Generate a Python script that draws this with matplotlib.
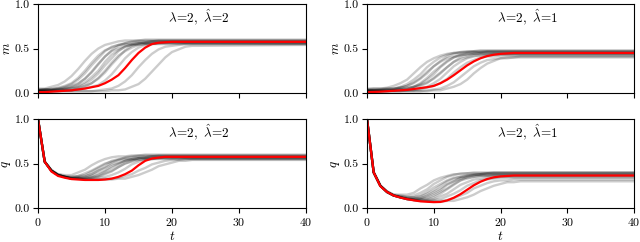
import matplotlib
matplotlib.use("Agg")
import matplotlib.pyplot as plt

plt.rcParams['font.family'] = 'serif'
plt.rcParams['font.serif'] = ['cmr10']
plt.rcParams['mathtext.fontset'] = 'cm'
plt.rcParams['axes.formatter.use_mathtext'] = True

t = list(range(0, 25)) + [40]

# panel (a): lambda=2, lambda_hat=2, overlap m
m_red_a = [.01, .01, .015, .02, .025, .03, .04, .05, .065, .08, .11, .15, .20, .28, .37, .45, .51, .55, .565, .57, .575, .575, .575, .575, .575, .575]
m_gray_a = [
    [.05, .05, .07, .09, .13, .19, .27, .36, .44, .50, .54, .56, .58, .59, .59, .59, .59, .59, .59, .59, .59, .59, .59, .59, .59, .59],
    [.03, .04, .04, .06, .08, .11, .17, .25, .34, .42, .48, .51, .54, .55, .55, .56, .56, .56, .56, .56, .56, .56, .56, .56, .56, .56],
    [.03, .04, .04, .05, .07, .10, .15, .22, .31, .39, .47, .52, .54, .56, .57, .58, .58, .58, .58, .58, .58, .58, .58, .58, .58, .58],
    [.02, .02, .03, .03, .05, .07, .10, .16, .24, .33, .41, .47, .50, .53, .54, .54, .55, .55, .55, .55, .55, .55, .55, .55, .55, .55],
    [.04, .04, .05, .05, .06, .08, .11, .16, .23, .32, .41, .48, .53, .56, .58, .59, .60, .60, .60, .60, .60, .60, .60, .60, .60, .60],
    [.03, .03, .03, .04, .04, .06, .08, .12, .18, .25, .35, .43, .48, .52, .55, .56, .56, .57, .57, .57, .57, .57, .57, .57, .57, .57],
    [.03, .03, .03, .04, .04, .05, .07, .10, .15, .22, .31, .39, .47, .52, .54, .56, .57, .58, .58, .58, .58, .58, .58, .58, .58, .58],
    [.02, .02, .02, .02, .03, .03, .05, .07, .11, .17, .25, .34, .42, .47, .51, .54, .55, .55, .56, .56, .56, .56, .56, .56, .56, .56],
    [.04, .04, .04, .04, .05, .05, .06, .08, .11, .16, .23, .32, .40, .48, .53, .55, .57, .58, .59, .59, .59, .59, .59, .59, .59, .59],
    [.03, .03, .03, .03, .03, .03, .04, .05, .07, .09, .14, .21, .30, .39, .46, .51, .54, .55, .56, .57, .57, .57, .57, .57, .57, .57],
    [.02, .02, .02, .02, .02, .02, .02, .02, .02, .03, .04, .05, .08, .13, .20, .29, .37, .44, .49, .52, .53, .54, .55, .55, .55, .55],
    [.02, .02, .02, .02, .02, .02, .02, .02, .02, .02, .02, .03, .03, .04, .07, .10, .16, .24, .32, .40, .46, .49, .52, .53, .53, .54],
]

# panel (b): lambda=2, lambda_hat=1, overlap m
m_red_b = [.01, .012, .015, .02, .025, .03, .035, .045, .055, .065, .08, .11, .15, .20, .255, .31, .355, .39, .415, .43, .44, .445, .45, .45, .45, .45]
m_gray_b = [
    [.04, .05, .05, .06, .08, .11, .15, .22, .29, .35, .39, .42, .44, .45, .45, .46, .46, .46, .46, .46, .46, .46, .46, .46, .46, .46],
    [.03, .03, .04, .04, .05, .07, .10, .15, .21, .29, .35, .40, .43, .45, .46, .46, .47, .47, .47, .47, .47, .47, .47, .47, .47, .47],
    [.03, .03, .03, .04, .04, .06, .08, .12, .17, .24, .30, .35, .39, .41, .43, .43, .44, .44, .44, .44, .44, .44, .44, .44, .44, .44],
    [.04, .04, .04, .05, .05, .06, .08, .11, .16, .22, .30, .36, .41, .44, .46, .47, .47, .48, .48, .48, .48, .48, .48, .48, .48, .48],
    [.02, .02, .02, .02, .03, .04, .05, .07, .11, .17, .24, .30, .36, .40, .42, .44, .44, .45, .45, .45, .45, .45, .45, .45, .45, .45],
    [.03, .03, .03, .03, .04, .04, .05, .07, .10, .15, .21, .29, .35, .40, .43, .45, .46, .46, .47, .47, .47, .47, .47, .47, .47, .47],
    [.03, .03, .03, .03, .03, .04, .04, .06, .08, .11, .17, .23, .29, .35, .38, .40, .42, .42, .43, .43, .43, .43, .43, .43, .43, .43],
    [.05, .05, .05, .05, .05, .06, .06, .07, .09, .12, .16, .22, .29, .35, .40, .42, .44, .45, .46, .46, .46, .46, .46, .46, .46, .46],
    [.02, .02, .02, .02, .02, .02, .03, .03, .05, .07, .11, .16, .23, .30, .35, .39, .41, .43, .43, .44, .44, .44, .44, .44, .44, .44],
    [.03, .03, .03, .03, .03, .03, .03, .04, .04, .06, .08, .11, .16, .23, .29, .34, .37, .40, .41, .41, .42, .42, .42, .42, .42, .42],
    [.02, .02, .02, .02, .02, .02, .02, .02, .02, .03, .04, .05, .08, .12, .18, .24, .30, .34, .37, .38, .39, .39, .40, .40, .40, .40],
    [.02, .02, .02, .02, .02, .02, .02, .02, .02, .02, .03, .03, .05, .07, .10, .15, .22, .28, .33, .36, .39, .40, .40, .41, .41, .41],
]

# panel (c): lambda=2, lambda_hat=2, self-overlap q
q_red_c = [1.0, .52, .41, .36, .34, .325, .32, .315, .315, .315, .32, .33, .35, .38, .42, .48, .53, .556, .567, .575, .575, .575, .575, .575, .575, .575]
q_gray_c = [
    [1.0, .52, .43, .38, .37, .37, .40, .43, .48, .52, .55, .57, .58, .58, .59, .59, .59, .59, .59, .59, .59, .59, .59, .59, .59, .59],
    [1.0, .52, .42, .38, .36, .35, .36, .39, .42, .46, .50, .52, .54, .55, .55, .56, .56, .56, .56, .56, .56, .56, .56, .56, .56, .56],
    [1.0, .52, .42, .37, .35, .35, .36, .37, .41, .45, .49, .53, .55, .56, .57, .58, .58, .58, .58, .58, .58, .58, .58, .58, .58, .58],
    [1.0, .52, .42, .37, .35, .34, .35, .36, .38, .42, .45, .49, .51, .53, .54, .54, .55, .55, .55, .55, .55, .55, .55, .55, .55, .55],
    [1.0, .52, .42, .37, .35, .34, .34, .35, .38, .42, .46, .51, .54, .57, .58, .59, .60, .60, .60, .60, .60, .60, .60, .60, .60, .60],
    [1.0, .52, .42, .37, .35, .34, .34, .34, .36, .39, .42, .47, .50, .53, .55, .56, .56, .57, .57, .57, .57, .57, .57, .57, .57, .57],
    [1.0, .52, .42, .37, .35, .33, .33, .34, .35, .37, .41, .45, .49, .53, .55, .56, .57, .58, .58, .58, .58, .58, .58, .58, .58, .58],
    [1.0, .52, .42, .37, .35, .33, .33, .33, .34, .36, .39, .42, .46, .50, .52, .54, .55, .55, .56, .56, .56, .56, .56, .56, .56, .56],
    [1.0, .52, .42, .37, .35, .33, .33, .33, .34, .35, .38, .41, .46, .50, .53, .56, .57, .58, .59, .59, .59, .59, .59, .59, .59, .59],
    [1.0, .52, .42, .37, .35, .33, .33, .32, .33, .34, .35, .37, .40, .44, .49, .52, .54, .55, .56, .57, .57, .57, .57, .57, .57, .57],
    [1.0, .52, .42, .37, .35, .33, .33, .32, .32, .32, .33, .33, .34, .36, .38, .42, .45, .49, .51, .53, .54, .54, .55, .55, .55, .55],
    [1.0, .52, .42, .37, .35, .33, .33, .32, .32, .32, .32, .32, .33, .33, .35, .37, .40, .43, .47, .49, .51, .53, .53, .54, .54, .54],
]

# panel (d): lambda=2, lambda_hat=1, self-overlap q
q_red_d = [1.0, .40, .245, .18, .14, .117, .10, .086, .075, .07, .066, .068, .085, .115, .155, .205, .255, .295, .325, .345, .355, .36, .365, .365, .365, .365]
q_gray_d = [
    [1.0, .40, .25, .19, .15, .15, .15, .17, .22, .26, .31, .34, .36, .38, .38, .39, .39, .39, .39, .39, .39, .39, .39, .39, .39, .39],
    [1.0, .40, .25, .18, .15, .14, .13, .14, .17, .21, .27, .31, .35, .37, .39, .39, .40, .40, .40, .40, .40, .40, .40, .40, .40, .40],
    [1.0, .40, .25, .18, .14, .13, .12, .12, .14, .18, .23, .27, .31, .34, .35, .36, .37, .37, .37, .37, .37, .37, .37, .37, .37, .37],
    [1.0, .40, .25, .18, .14, .13, .12, .12, .13, .16, .20, .25, .30, .33, .35, .37, .37, .38, .38, .38, .38, .38, .38, .38, .38, .38],
    [1.0, .40, .25, .18, .14, .12, .11, .11, .11, .14, .18, .22, .27, .30, .33, .34, .35, .36, .36, .36, .36, .36, .36, .36, .36, .36],
    [1.0, .40, .25, .18, .14, .12, .11, .10, .11, .13, .16, .20, .26, .30, .34, .36, .38, .38, .39, .39, .39, .39, .39, .39, .39, .39],
    [1.0, .40, .25, .18, .14, .12, .10, .10, .10, .11, .14, .18, .22, .27, .31, .33, .35, .36, .36, .37, .37, .37, .37, .37, .37, .37],
    [1.0, .40, .25, .18, .14, .12, .10, .10, .10, .10, .12, .16, .21, .26, .31, .35, .37, .38, .39, .40, .40, .40, .40, .40, .40, .40],
    [1.0, .40, .25, .18, .14, .12, .10, .09, .09, .09, .10, .13, .16, .21, .26, .29, .32, .33, .34, .34, .35, .35, .35, .35, .35, .35],
    [1.0, .40, .25, .18, .14, .12, .10, .09, .08, .08, .09, .10, .13, .16, .20, .25, .28, .31, .32, .33, .34, .34, .34, .34, .34, .34],
    [1.0, .40, .25, .18, .14, .12, .10, .09, .08, .08, .08, .08, .09, .11, .14, .17, .22, .25, .28, .30, .31, .31, .32, .32, .32, .32],
    [1.0, .40, .25, .18, .14, .12, .10, .09, .08, .08, .07, .07, .08, .08, .10, .12, .15, .19, .22, .25, .27, .29, .29, .30, .30, .30],
]

labels = [r'$\lambda\!=\!2,\ \hat{\lambda}\!=\!2$', r'$\lambda\!=\!2,\ \hat{\lambda}\!=\!1$']

fig = plt.figure(figsize=(6.4, 2.42), dpi=100)
W, H = 640, 242
def pos(x0, y0, x1, y1):
    return [x0 / W, 1 - y1 / H, (x1 - x0) / W, (y1 - y0) / H]

ax_a = fig.add_axes(pos(38, 4, 306, 93))
ax_b = fig.add_axes(pos(367, 4, 634, 93))
ax_c = fig.add_axes(pos(38, 119, 306, 208))
ax_d = fig.add_axes(pos(367, 119, 634, 208))

panels = [
    (ax_a, m_gray_a, m_red_a, r'$m$', labels[0], False),
    (ax_b, m_gray_b, m_red_b, r'$m$', labels[1], False),
    (ax_c, q_gray_c, q_red_c, r'$q$', labels[0], True),
    (ax_d, q_gray_d, q_red_d, r'$q$', labels[1], True),
]

for ax, grays, red, ylab, lab, bottom in panels:
    for g in grays:
        ax.plot(t, g, color='k', alpha=0.2, lw=1.7)
    ax.plot(t, red, color='red', lw=1.6)
    ax.set_xlim(0, 40)
    ax.set_ylim(0, 1)
    ax.set_xticks([0, 10, 20, 30, 40])
    ax.set_yticks([0, 0.5, 1.0])
    ax.set_yticklabels(['0.0', '0.5', '1.0'])
    ax.tick_params(labelsize=8.5, length=3.5, pad=2.5)
    ax.set_ylabel(ylab, fontsize=9.5)
    ax.yaxis.set_label_coords(-0.092, 0.5)
    ax.text(0.6, 0.85, lab, transform=ax.transAxes, ha='center', va='center', fontsize=9.5)
    if bottom:
        ax.set_xlabel(r'$t$', fontsize=9.5)
        ax.xaxis.set_label_coords(0.5, -0.25)
    else:
        ax.set_xticklabels([])

fig.savefig('out.png', dpi=100)
